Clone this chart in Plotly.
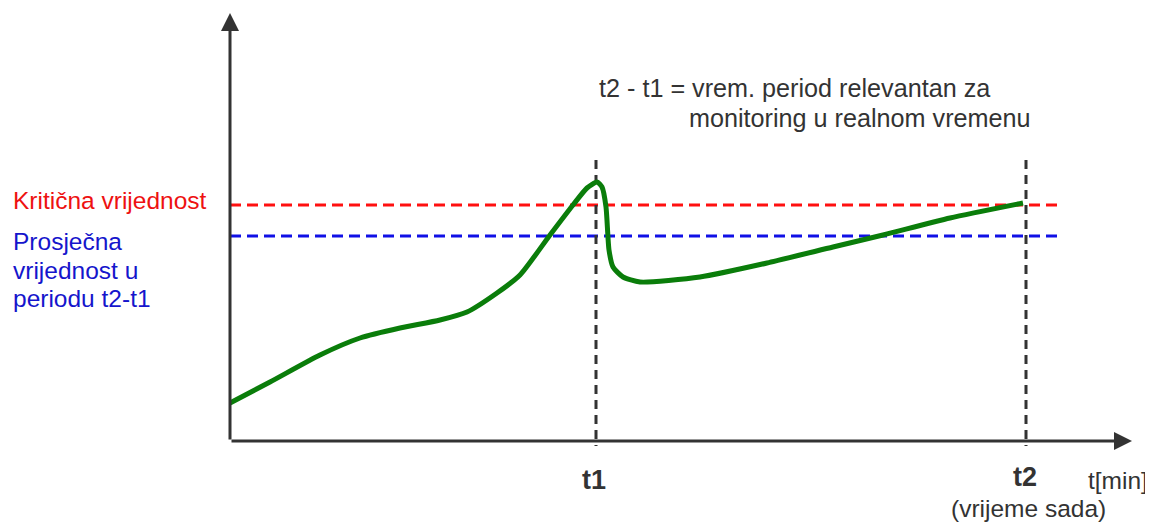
import plotly.graph_objects as go

# green curve (x = time, y = value)
curve_t = [0, 4, 9, 13, 17, 21, 23.7, 26.7, 29, 32, 34.3, 35.7, 36.7,
           37.2, 37.6, 37.9, 38.3, 39.3, 41, 47, 53.7, 60.3, 65.3, 72, 79.3]
curve_v = [3.8, 5.9, 8.6, 10.3, 11.3, 12.1, 12.9, 14.8, 16.6, 20.6, 23.6, 25.3, 25.9,
           25.4, 23.4, 19.1, 17.4, 16.4, 15.9, 16.4, 17.8, 19.4, 20.6, 22.3, 23.8]

t1 = 36.6
t2 = 79.6
critical = 23.6
average = 20.5
line_end = 83.0
x_axis_end = 90.2
y_axis_end = 42.8
vline_top = 28.1

GRAY = "#333333"
FONT = "Liberation Sans, Arial, sans-serif"
FS = 24.5

fig = go.Figure()

fig.add_trace(go.Scatter(x=[0, line_end], y=[critical, critical], mode="lines",
                         line=dict(color="#ff1010", width=3, dash="11px,6px"),
                         hoverinfo="skip"))
fig.add_trace(go.Scatter(x=[0, line_end], y=[average, average], mode="lines",
                         line=dict(color="#1010e6", width=3, dash="11px,6px"),
                         hoverinfo="skip"))
for tx in (t1, t2):
    fig.add_trace(go.Scatter(x=[tx, tx], y=[vline_top, -0.5], mode="lines",
                             line=dict(color=GRAY, width=3, dash="9px,6px"),
                             hoverinfo="skip"))

fig.add_trace(go.Scatter(x=curve_t, y=curve_v, mode="lines",
                         line=dict(color="#0a7d0a", width=5, shape="spline", smoothing=0.6),
                         hoverinfo="skip"))

# axes with arrowheads
fig.add_annotation(x=x_axis_end, y=0, ax=0, ay=0, xref="x", yref="y", axref="x", ayref="y",
                   text="", showarrow=True, arrowhead=2, arrowsize=1.2, arrowwidth=3,
                   arrowcolor=GRAY)
fig.add_annotation(x=0, y=y_axis_end, ax=0, ay=0, xref="x", yref="y", axref="x", ayref="y",
                   text="", showarrow=True, arrowhead=2, arrowsize=1.2, arrowwidth=3,
                   arrowcolor=GRAY)

def label(x, y, text, color=GRAY, size=FS, anchor="left", bold=False):
    if bold:
        text = f"<b>{text}</b>"
    fig.add_annotation(x=x, y=y, text=text, showarrow=False, xanchor=anchor,
                       yanchor="middle", font=dict(family=FONT, size=size, color=color))

label(-21.9, 24.1, "Kritična vrijednost", color="#ee1111")
label(-21.9, 20.0, "Prosječna", color="#1515cc")
label(-21.9, 17.1, "vrijednost u", color="#1515cc")
label(-21.9, 14.3, "periodu t2-t1", color="#1515cc")
label(36.7, 35.3, "t2 - t1 = vrem. period relevantan za", size=25.2)
label(45.7, 32.3, "monitoring u realnom vremenu", size=25.2)
label(t1 - 0.2, -3.9, "t1", size=27, anchor="center", bold=True)
label(t2 - 0.1, -3.6, "t2", size=27, anchor="center", bold=True)
label(92.0, -3.9, "t[min]", anchor="right")
label(t2 + 0.2, -6.7, "(vrijeme sada)", anchor="center")

# the page body adds an 8px margin, so the figure is 8px smaller each way
fig.update_layout(
    width=1145, height=514,
    margin=dict(l=0, r=0, t=0, b=0),
    plot_bgcolor="white", paper_bgcolor="white",
    showlegend=False,
    xaxis=dict(range=[-22.2, 92.3], visible=False, fixedrange=True),
    yaxis=dict(range=[-8.1, 43.3], visible=False, fixedrange=True),
)

fig.write_html("out.html")
